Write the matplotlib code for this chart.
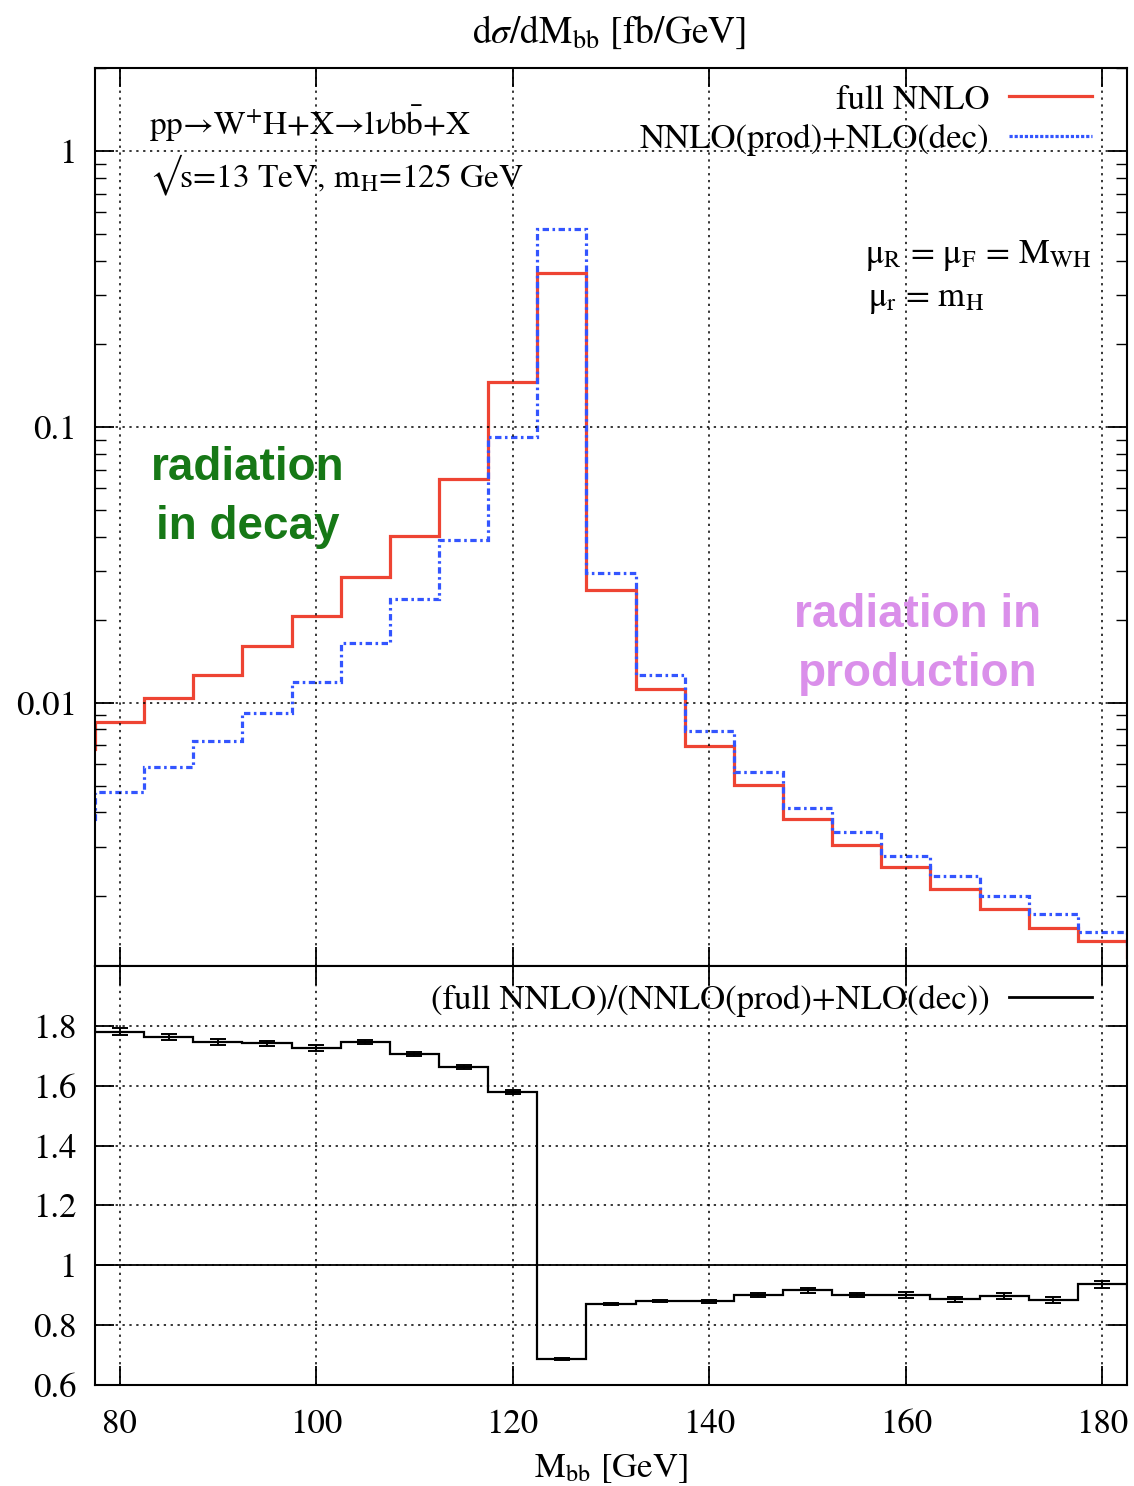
import matplotlib
matplotlib.use("Agg")
import matplotlib.pyplot as plt
from matplotlib.lines import Line2D
import numpy as np

plt.rcParams['font.family'] = ['STIXGeneral', 'DejaVu Serif']
plt.rcParams['mathtext.fontset'] = 'stix'

# bin edges in Mbb [GeV], 5 GeV bins (outer bins only partly visible)
edges = np.arange(72.5, 188.0, 5.0)

# dsigma/dMbb [fb/GeV]
full_nnlo = [0.0068, 0.00853, 0.0104, 0.0126, 0.0160, 0.0207, 0.0286, 0.0402,
             0.0648, 0.146, 0.361, 0.0257, 0.0112, 0.00698, 0.00505, 0.0038,
             0.00306, 0.00254, 0.00212, 0.00179, 0.00153, 0.00137, 0.0012]
prod_nlo_dec = [0.0038, 0.00476, 0.00586, 0.00728, 0.0092, 0.0119, 0.0164, 0.0238,
                0.0389, 0.092, 0.522, 0.0296, 0.0126, 0.00792, 0.00562, 0.00416,
                0.00341, 0.00279, 0.00236, 0.0020, 0.00172, 0.00147, 0.00133]

# ratio panel
ratio = [1.79, 1.78, 1.763, 1.746, 1.742, 1.725, 1.746, 1.705, 1.662, 1.58,
         0.688, 0.87, 0.88, 0.88, 0.90, 0.916, 0.90, 0.90, 0.886, 0.896,
         0.883, 0.936, 0.92]
ratio_err = [0.012, 0.012, 0.010, 0.010, 0.009, 0.010, 0.008, 0.007, 0.006, 0.006,
             0.003, 0.004, 0.004, 0.005, 0.007, 0.008, 0.007, 0.009, 0.009, 0.010,
             0.010, 0.012, 0.012]

xticks = [80, 100, 120, 140, 160, 180]
main_yticks = [0.01, 0.1, 1]
main_ylabels = ['0.01', '0.1', '1']
ratio_yticks = [0.6, 0.8, 1.0, 1.2, 1.4, 1.6, 1.8]
ratio_ylabels = ['0.6', '0.8', '1', '1.2', '1.4', '1.6', '1.8']

red = '#EE4433'
blue = '#3355FF'
fs = 25

fig = plt.figure(figsize=(11.34, 14.86), dpi=100)
ax = fig.add_axes([0.0838, 0.3499, 0.9100, 0.6043])
rx = fig.add_axes([0.0838, 0.0680, 0.9100, 0.2819])

centers = 0.5 * (edges[:-1] + edges[1:])

# main panel
ax.stairs(full_nnlo, edges, color=red, lw=2.3, baseline=None)
ax.stairs(prod_nlo_dec, edges, color=blue, lw=2.3, baseline=None,
          linestyle=(0, (2.0, 1.1, 0.8, 1.1)))
ax.set_yscale('log')
ax.set_xlim(77.5, 182.5)
ax.set_ylim(0.00111, 2.0)
ax.set_yticks(main_yticks)
ax.set_yticklabels(main_ylabels)
ax.set_xticks(xticks)
ax.set_xticklabels([])
ax.grid(True, which='major', linestyle=(0, (1.5, 3)), color='black', lw=1.1)

handles = [Line2D([], [], color=red, lw=2.3),
           Line2D([], [], color=blue, lw=2.3, linestyle=(0, (1.0, 0.6)))]
ax.legend(handles, ['full NNLO', 'NNLO(prod)+NLO(dec)'], loc='upper right',
          bbox_to_anchor=(0.966, 0.982), frameon=False, markerfirst=False,
          fontsize=fs, handlelength=2.4, handletextpad=0.55, borderaxespad=0,
          borderpad=0, labelspacing=0.22)

ax.text(0.052, 0.925, r'pp→W$^{+}$H+X→lνb$\bar{\rm b}$+X',
        transform=ax.transAxes, fontsize=24)
ax.text(0.052, 0.867, r'√s=13 TeV, m$_{\rm H}$=125 GeV',
        transform=ax.transAxes, fontsize=24)
ax.text(0.966, 0.783, r'μ$_{\rm R}$ = μ$_{\rm F}$ = M$_{\rm WH}$',
        transform=ax.transAxes, fontsize=fs, ha='right')
ax.text(0.749, 0.735, r'μ$_{\rm r}$ = m$_{\rm H}$',
        transform=ax.transAxes, fontsize=fs)

ax.text(0.148, 0.522, 'radiation\nin decay', transform=ax.transAxes,
        fontsize=33, fontweight='bold', color='#167816', ha='center',
        va='center', family='Liberation Sans', linespacing=1.45)
ax.text(0.797, 0.358, 'radiation in\nproduction', transform=ax.transAxes,
        fontsize=33, fontweight='bold', color='#DA8FEA', ha='center',
        va='center', family='Liberation Sans', linespacing=1.45)

# ratio panel
rx.stairs(ratio, edges, color='black', lw=1.6, baseline=None)
rx.errorbar(centers, ratio, yerr=ratio_err, fmt='none', ecolor='black',
            elinewidth=1.4, capsize=6, capthick=1.4)
rx.axhline(1.0, color='black', lw=1.3)
rx.set_xlim(77.5, 182.5)
rx.set_ylim(0.6, 2.0)
rx.set_xticks(xticks)
rx.set_xticklabels([str(t) for t in xticks])
rx.set_yticks(ratio_yticks)
rx.set_yticklabels(ratio_ylabels)
rx.grid(True, which='major', linestyle=(0, (1.5, 3)), color='black', lw=1.1)
rx.legend([Line2D([], [], color='black', lw=2.0)],
          ['(full NNLO)/(NNLO(prod)+NLO(dec))'], loc='upper right',
          bbox_to_anchor=(0.966, 0.955), frameon=False, markerfirst=False,
          fontsize=fs, handlelength=2.4, handletextpad=0.55, borderaxespad=0,
          borderpad=0)
rx.set_xlabel(r'M$_{\rm bb}$ [GeV]', fontsize=fs, labelpad=8)

for a in (ax, rx):
    a.tick_params(which='both', direction='in', top=True, right=True,
                  labelsize=fs)
    a.tick_params(which='major', length=14, width=1.3)
    a.tick_params(which='minor', length=8, width=1.0)
    a.tick_params(axis='y', pad=13)
    a.tick_params(axis='x', pad=17)
    for s in a.spines.values():
        s.set_linewidth(1.5)
rx.minorticks_off()

fig.text(0.537, 0.978, r'd$\sigma$/dM$_{\rm bb}$ [fb/GeV]', fontsize=27,
         ha='center', va='center')

fig.savefig('out.png', dpi=100)
